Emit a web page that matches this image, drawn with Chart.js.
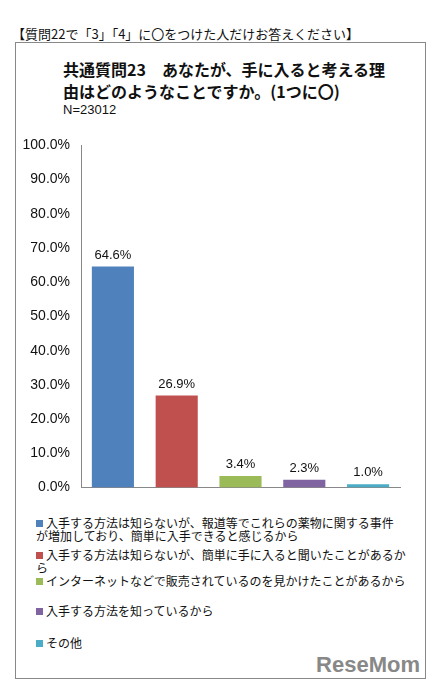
<!DOCTYPE html>
<html><head><meta charset="utf-8">
<script src="https://cdn.jsdelivr.net/npm/chart.js@4"></script>
<style>
body{margin:0;width:442px;height:691px;background:#fff;font-family:"Noto Sans CJK JP",sans-serif;position:relative;overflow:hidden}
#head{position:absolute;left:12px;top:24px;font-size:13px;color:#111}
#frame{position:absolute;left:15px;top:42px;width:411px;height:637px;border:1px solid #888;box-sizing:border-box}
#title{position:absolute;left:63px;top:58px;font-size:16px;font-weight:bold;line-height:22px;color:#111}
#n{position:absolute;left:63px;top:102px;font-size:13px;font-family:"Liberation Sans",sans-serif;color:#111}
#wrap{position:absolute;left:0;top:134px;width:420px;height:365px}
.lg{position:absolute;left:36px;font-size:12px;line-height:13px;color:#111}
.lg i{display:inline-block;width:7px;height:7px;margin-right:3px;vertical-align:1px}
#logo{position:absolute;right:22px;top:652px;font:bold 22px "Liberation Sans",sans-serif;color:#888}
</style></head><body>
<div id="head">【質問22で「3」「4」に〇をつけた人だけお答えください】</div>
<div id="frame"></div>
<div id="title">共通質問23　あなたが、手に入ると考える理<br>由はどのようなことですか。(1つに〇)</div>
<div id="n">N=23012</div>
<div id="wrap"><canvas id="cv"></canvas></div>
<div id="legend"></div>
<div id="logo">ReseMom</div>
<script>
const categories = ['入手する方法は知らないが、報道等でこれらの薬物に関する事件が増加しており、簡単に入手できると感じるから',
  '入手する方法は知らないが、簡単に手に入ると聞いたことがあるから',
  'インターネットなどで販売されているのを見かけたことがあるから',
  '入手する方法を知っているから',
  'その他'];
const values = [64.6, 26.9, 3.4, 2.3, 1.0];
const colors = ['#4f81bd', '#c0504d', '#9bbb59', '#8064a2', '#4bacc6'];
const legendTop = [516, 548, 574, 604, 636];
const legendText = ['入手する方法は知らないが、報道等でこれらの薬物に関する事件<br>が増加しており、簡単に入手できると感じるから',
  '入手する方法は知らないが、簡単に手に入ると聞いたことがあるか<br>ら',
  categories[2], categories[3], categories[4]];

const lg = document.getElementById('legend');
legendText.forEach((t, i) => {
  const d = document.createElement('div');
  d.className = 'lg';
  d.style.top = legendTop[i] + 'px';
  d.innerHTML = '<i style="background:' + colors[i] + '"></i>' + t;
  lg.appendChild(d);
});

const labelPlugin = {
  id: 'vals',
  afterDatasetsDraw(chart) {
    const ctx = chart.ctx;
    ctx.save();
    ctx.font = '13px "Liberation Sans"';
    ctx.fillStyle = '#111';
    ctx.textAlign = 'center';
    chart.getDatasetMeta(0).data.forEach((b, i) => {
      ctx.fillText(values[i].toFixed(1) + '%', b.x, b.y - 8);
    });
    ctx.restore();
  }
};

new Chart(document.getElementById('cv'), {
  type: 'bar',
  data: {
    labels: categories,
    datasets: [{ data: values, backgroundColor: colors, categoryPercentage: 0.66, barPercentage: 1 }]
  },
  options: {
    responsive: true, maintainAspectRatio: false, animation: false,
    layout: { padding: { top: 6, right: 20, bottom: 0 } },
    plugins: { legend: { display: false }, tooltip: { enabled: false } },
    scales: {
      x: { ticks: { display: false }, grid: { display: false }, border: { color: '#888' } },
      y: {
        min: 0, max: 100,
        ticks: { stepSize: 10, color: '#111', font: { size: 14, family: 'Liberation Sans' }, callback: v => v.toFixed(1) + '%' },
        grid: { display: false }, border: { color: '#888' },
        afterFit(s) { s.width = 81; }
      }
    }
  },
  plugins: [labelPlugin]
});
</script>
</body></html>
